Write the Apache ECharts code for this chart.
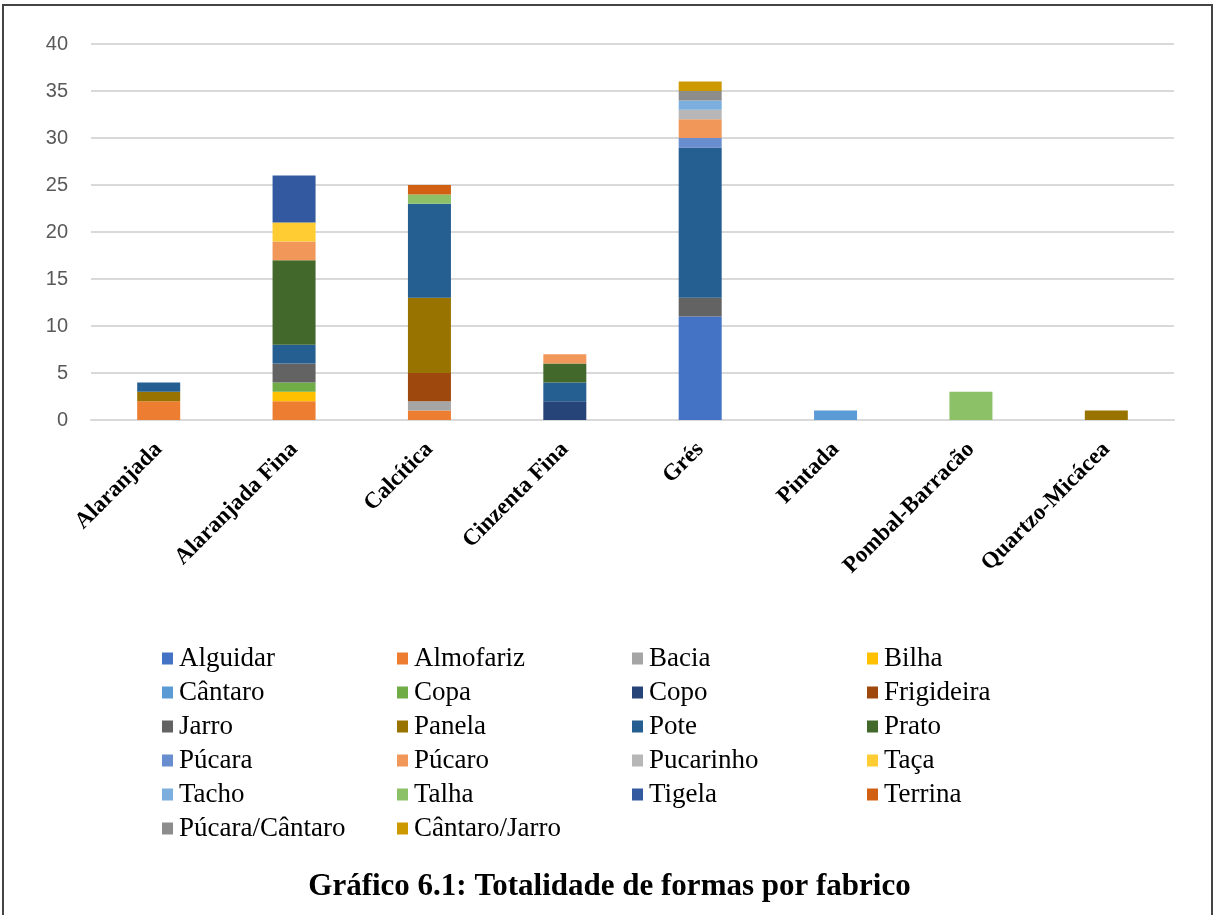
<!DOCTYPE html>
<html>
<head>
<meta charset="utf-8">
<script src="https://cdn.jsdelivr.net/npm/echarts@6/dist/echarts.min.js"></script>
<style>
html,body{margin:0;padding:0;background:#fff;}
#chart{width:1219px;height:915px;}
</style>
</head>
<body>
<div id="chart"></div>
<script>
var categorias=['Alaranjada','Alaranjada Fina','Calcítica','Cinzenta Fina','Grés','Pintada','Pombal-Barracão','Quartzo-Micácea'];
var formas=['Alguidar','Almofariz','Bacia','Bilha','Cântaro','Copa','Copo','Frigideira','Jarro','Panela','Pote','Prato','Púcara','Púcaro','Pucarinho','Taça','Tacho','Talha','Tigela','Terrina','Púcara/Cântaro','Cântaro/Jarro'];
var cores=['#4472C4','#ED7D31','#A5A5A5','#FFC000','#5B9BD5','#70AD47','#264478','#9E480E','#636363','#997300','#255E91','#43682B','#698ED0','#F1975A','#B7B7B7','#FFCD33','#7CAFDD','#8CC168','#335AA1','#D26012','#8C8C8C','#CC9A00'];

// valores por forma, na ordem das categorias
var alguidar=[0,0,0,0,11,0,0,0];
var almofariz=[2,2,1,0,0,0,0,0];
var bacia=[0,0,1,0,0,0,0,0];
var bilha=[0,1,0,0,0,0,0,0];
var cantaro=[0,0,0,0,0,1,0,0];
var copa=[0,1,0,0,0,0,0,0];
var copo=[0,0,0,2,0,0,0,0];
var frigideira=[0,0,3,0,0,0,0,0];
var jarro=[0,2,0,0,2,0,0,0];
var panela=[1,0,8,0,0,0,0,1];
var pote=[1,2,10,2,16,0,0,0];
var prato=[0,9,0,2,0,0,0,0];
var pucara=[0,0,0,0,1,0,0,0];
var pucaro=[0,2,0,1,2,0,0,0];
var pucarinho=[0,0,0,0,1,0,0,0];
var taca=[0,2,0,0,0,0,0,0];
var tacho=[0,0,0,0,1,0,0,0];
var talha=[0,0,1,0,0,0,3,0];
var tigela=[0,5,0,0,0,0,0,0];
var terrina=[0,0,1,0,0,0,0,0];
var pucaraCantaro=[0,0,0,0,1,0,0,0];
var cantaroJarro=[0,0,0,0,1,0,0,0];

var valores=[alguidar,almofariz,bacia,bilha,cantaro,copa,copo,frigideira,jarro,panela,pote,prato,pucara,pucaro,pucarinho,taca,tacho,talha,tigela,terrina,pucaraCantaro,cantaroJarro];

var chart=echarts.init(document.getElementById('chart'));
var series=[];
for(var i=0;i<formas.length;i++){
	series.push({
		name:formas[i],
		type:'bar',
		stack:'total',
		barWidth:43,
		color:cores[i],
		data:valores[i].map(function(v){return v===0?null:v;})
	});
}
var option={
	animation:false,
	color:cores,
	title:{
		text:'Gráfico 6.1: Totalidade de formas por fabrico',
		left:'center',
		top:866,
		textStyle:{fontFamily:'Liberation Serif',fontSize:31,fontWeight:'bold',color:'#000'}
	},
	graphic:[{
		type:'rect',
		shape:{x:3,y:5,width:1209,height:940},
		style:{fill:'none',stroke:'#444',lineWidth:2},
		silent:true
	}],
	legend:{
		left:157,
		top:640,
		width:960,
		itemWidth:11,
		itemHeight:12,
		itemGap:7,
		icon:'rect',
		textStyle:{fontFamily:'Liberation Serif',fontSize:27,color:'#000',width:211,lineHeight:24,padding:[0,0,0,1]},
		data:formas
	},
	grid:{left:91,right:45,top:44,bottom:495},
	xAxis:{
		type:'category',
		data:categorias,
		axisLine:{lineStyle:{color:'#d9d9d9',width:2}},
		axisTick:{show:false},
		axisLabel:{
			interval:0,
			rotate:45,
			margin:26,
			fontFamily:'Liberation Serif',
			fontSize:23,
			fontWeight:'bold',
			color:'#000'
		}
	},
	yAxis:{
		type:'value',
		min:0,
		max:40,
		interval:5,
		axisLine:{show:false},
		axisTick:{show:false},
		splitLine:{lineStyle:{color:'#d9d9d9',width:2}},
		axisLabel:{margin:23,fontFamily:'Liberation Sans',fontSize:20,color:'#595959'}
	},
	series:series
};
chart.setOption(option);
</script>
</body>
</html>
